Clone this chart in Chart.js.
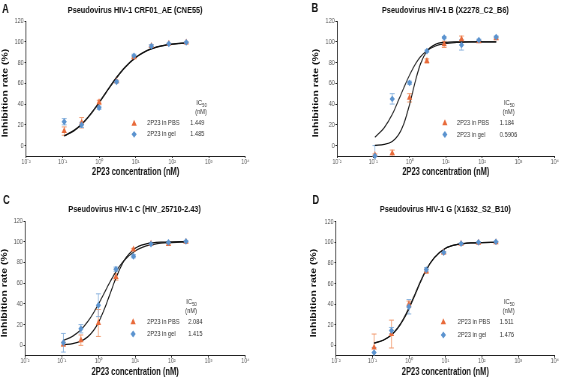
<!DOCTYPE html>
<html><head><meta charset="utf-8">
<script src="https://cdn.jsdelivr.net/npm/chart.js@4.4.1/dist/chart.umd.min.js"></script>
<style>
html,body{margin:0;padding:0;background:#fff;}
#wrap{position:relative;width:561px;height:377px;overflow:hidden;background:#fff;}
canvas{position:absolute;}
</style></head><body><div id="wrap">
<canvas id="cA"></canvas><canvas id="cB"></canvas><canvas id="cC"></canvas><canvas id="cD"></canvas>
</div>
<script>
// ---------- shared axis data ----------
const concentrations = [0.111, 0.333, 1, 3, 9, 27, 81, 243];
const curveX = [0.111, 0.2, 0.333, 0.5, 0.7, 1, 1.5, 2, 3, 5, 10, 20, 30, 50, 100, 243];
const xTickValues = [0.01, 0.1, 1, 10, 100, 1000, 10000];
const xTickLabels = ['10⁻²', '10⁻¹', '10⁰', '10¹', '10²', '10³', '10⁴'];
const yTickValues = [0, 20, 40, 60, 80, 100, 120];
const seriesNames = ['2P23 in PBS', '2P23 in gel'];
const xAxisTitle = '2P23 concentration (nM)';
const yAxisTitle = 'Inhibition rate (%)';

// ---------- panel A ----------
const titleA = 'Pseudovirus HIV-1 CRF01_AE (CNE55)';
const pbsA = [14, 22, 41.7, 62, 85, 96, 98, 99.3];
const pbsErrA = [4, 5, 2, 1, 1, 1, 0.5, 0.5];
const gelA = [23, 20, 36.5, 61.5, 86.5, 95.8, 98, 99.4];
const gelErrA = [3, 2.5, 1.5, 1, 1.5, 1.5, 0.5, 0.5];
const ic50A = ['1.449', '1.485'];
const fitPbsA = [9.5, 14.4, 20.9, 27.7, 34.2, 41.7, 50.8, 57.2, 65.8, 75.3, 85, 91.4, 93.9, 96, 97.8, 99];
const fitGelA = [9.2, 14, 20.4, 27.1, 33.6, 40.9, 50.2, 56.5, 65.1, 74.7, 84.6, 91.1, 93.7, 95.9, 97.7, 98.9];

// ---------- panel B ----------
const titleB = 'Pseudovirus HIV-1 B (X2278_C2_B6)';
const pbsB = [-9, -7.3, 46, 81.5, 97.5, 102.5, 100.5, 103.5];
const pbsErrB = [1, 3, 4, 2, 3, 3, 1, 1];
const gelB = [-10, 45, 60.5, 91, 104, 97, 101.5, 104.5];
const gelErrB = [10, 5, 1.5, 1, 1, 5, 1, 1];
const ic50B = ['1.184', '0.5906'];
const fitPbsB = [0.3, 1.2, 4, 10.5, 21.3, 39.6, 64.3, 78.7, 91, 97.3, 99.5, 99.9, 100, 100, 100, 100];
const fitGelB = [8, 17.2, 30, 44, 56, 68, 79.5, 85.5, 91.3, 95.7, 98.4, 99.4, 99.7, 99.9, 100, 100];

// ---------- panel C ----------
const titleC = 'Pseudovirus HIV-1 C (HIV_25710-2.43)';
const pbsC = [1, 5, 21.6, 66, 92.6, 98, 97.7, 100];
const pbsErrC = [2, 5, 13, 3, 1, 1, 1, 0.5];
const gelC = [2.5, 16, 38.7, 73.5, 86, 97.7, 99.3, 100.3];
const gelErrC = [9, 4, 11, 2, 1.5, 1, 0.5, 0.5];
const ic50C = ['2.084', '1.415'];
const fitPbsC = [0.6, 1.7, 4, 7.9, 13.3, 22, 36.2, 48.2, 65, 81.8, 93.7, 98, 99, 99.6, 99.9, 100];
const fitGelC = [4.6, 8.9, 15, 22.5, 30.2, 39.8, 51.7, 60.2, 71, 81.8, 91, 95.9, 97.3, 98.6, 99.2, 99.7];

// ---------- panel D ----------
const titleD = 'Pseudovirus HIV-1 G (X1632_S2_B10)';
const pbsD = [-2, 11, 40, 72, 90, 98.5, 99.5, 100];
const pbsErrD = [13, 13.5, 3, 2, 1, 0.5, 0.5, 0.5];
const gelD = [-7, 14.4, 37.5, 73.4, 90, 98.7, 100, 100.5];
const gelErrD = [5, 3, 7, 2, 1, 0.5, 0.5, 0.5];
const ic50D = ['1.511', '1.476'];
const fitPbsD = [2.2, 5, 10, 16.8, 24.7, 35.5, 49.7, 60, 73.2, 85, 94, 97.7, 98.6, 99.4, 99.8, 100];
const fitGelD = [2.3, 5.2, 10.4, 17.4, 25.5, 36.4, 50.6, 60.9, 73.8, 85.4, 94.2, 97.8, 98.7, 99.4, 99.8, 100];

// ---------- styling / layout ----------
const S = 0.75; // horizontal squeeze of the reference figure
const FONT = '"Liberation Sans", Arial, Helvetica, sans-serif';
const ORANGE = '#e86a3a', ORANGE_ERR = '#f19a6e';
const BLUE = '#5b93cf', BLUE_ERR = '#8cb4de';
Chart.defaults.font.family = FONT;

const panels = [
  {id:'cA', letter:'A', title:titleA, pbs:pbsA, pbsErr:pbsErrA, gel:gelA, gelErr:gelErrA, ic:ic50A, fitPbs:fitPbsA, fitGel:fitGelA,
   box:[0,0,280,188], plot:[26,21,245,156], letterPos:[2,10], titlePos:[135,10], yTitlePos:[5.5,93], xTitleY:172.7,
   leg:{mx:134, tx:147, vx:190, hx:196, hy:103, ny:112, r1:123.3, r2:134.3}},
  {id:'cB', letter:'B', title:titleB, pbs:pbsB, pbsErr:pbsErrB, gel:gelB, gelErr:gelErrB, ic:ic50B, fitPbs:fitPbsB, fitGel:fitGelB,
   box:[280,0,281,188], plot:[337,21,555,156], letterPos:[311.5,9], titlePos:[445.5,10], yTitlePos:[316,93], xTitleY:172.7,
   leg:{mx:445, tx:457, vx:500, hx:504, hy:103, ny:111.5, r1:122.7, r2:134.5}},
  {id:'cC', letter:'C', title:titleC, pbs:pbsC, pbsErr:pbsErrC, gel:gelC, gelErr:gelErrC, ic:ic50C, fitPbs:fitPbsC, fitGel:fitGelC,
   box:[0,188,280,189], plot:[25,221,245,355.7], letterPos:[3,200.5], titlePos:[134.5,209], yTitlePos:[4.5,293], xTitleY:372.2,
   leg:{mx:133, tx:147, vx:188, hx:186, hy:302, ny:311, r1:321.7, r2:334}},
  {id:'cD', letter:'D', title:titleD, pbs:pbsD, pbsErr:pbsErrD, gel:gelD, gelErr:gelErrD, ic:ic50D, fitPbs:fitPbsD, fitGel:fitGelD,
   box:[280,188,281,189], plot:[336,221.7,555,355.7], letterPos:[312.5,200.5], titlePos:[445.5,209], yTitlePos:[314,293], xTitleY:372.2,
   leg:{mx:443.5, tx:458, vx:500, hx:504, hy:302, ny:310.5, r1:321.7, r2:335}}
];

const errorBars = {
  id:'errorBars',
  beforeDatasetsDraw(chart) {
    const {ctx, chartArea, scales:{x, y}} = chart;
    ctx.save();
    ctx.beginPath();
    ctx.rect(chartArea.left - 10, chartArea.top - 10, chartArea.right - chartArea.left + 20, chartArea.bottom - chartArea.top + 10);
    ctx.clip();
    for (let i = chart.data.datasets.length - 1; i >= 0; i--) {
      const ds = chart.data.datasets[i];
      if (!ds.errors) continue;
      ctx.strokeStyle = ds.errorColor; ctx.lineWidth = 1;
      ds.data.forEach((pt, j) => {
        const e = ds.errors[j]; if (!e) return;
        const px = x.getPixelForValue(pt.x);
        const yt = y.getPixelForValue(pt.y + e), yb = y.getPixelForValue(pt.y - e);
        const cw = 3.2;
        ctx.beginPath();
        ctx.moveTo(px, yt); ctx.lineTo(px, yb);
        ctx.moveTo(px - cw, yt); ctx.lineTo(px + cw, yt);
        ctx.moveTo(px - cw, yb); ctx.lineTo(px + cw, yb);
        ctx.stroke();
      });
    }
    ctx.restore();
  }
};

function marker(ctx, style, x, y, r, color) {
  ctx.fillStyle = color; ctx.beginPath();
  if (style === 'triangle') {
    ctx.moveTo(x, y - r); ctx.lineTo(x + r * 0.866, y + r * 0.5); ctx.lineTo(x - r * 0.866, y + r * 0.5);
  } else {
    ctx.moveTo(x, y - r); ctx.lineTo(x + r, y); ctx.lineTo(x, y + r); ctx.lineTo(x - r, y);
  }
  ctx.closePath(); ctx.fill();
}

function buildPanel(p) {
  const [bx, by, bw, bh] = p.box;
  const [pl, pt, pr, pb] = p.plot;
  const cv = document.getElementById(p.id);
  const iw = Math.round(bw / S);
  cv.width = iw; cv.height = bh;
  cv.style.left = bx + 'px'; cv.style.top = by + 'px';
  cv.style.width = bw + 'px'; cv.style.height = bh + 'px';
  const X = dx => (dx - bx) / S;
  const Y = dy => dy - by;

  const textPlugin = {
    id:'panelText',
    afterDraw(chart) {
      const ctx = chart.ctx;
      ctx.save();
      ctx.fillStyle = '#111';
      ctx.textBaseline = 'middle';
      // panel letter
      ctx.font = 'bold 12.5px ' + FONT; ctx.textAlign = 'left';
      ctx.fillText(p.letter, X(p.letterPos[0]), Y(p.letterPos[1]));
      // title
      ctx.font = 'bold 9.8px ' + FONT; ctx.textAlign = 'center';
      ctx.fillText(p.title, X(p.titlePos[0]), Y(p.titlePos[1]));
      // x axis title
      ctx.font = 'bold 10px ' + FONT;
      ctx.fillText(xAxisTitle, X((pl + pr) / 2), Y(p.xTitleY));
      // y axis title
      ctx.save();
      ctx.translate(X(p.yTitlePos[0]), Y(p.yTitlePos[1]));
      ctx.rotate(-Math.PI / 2);
      ctx.font = 'bold 10.5px ' + FONT;
      ctx.fillText(yAxisTitle, 0, 0);
      ctx.restore();
      // legend
      const L = p.leg;
      ctx.fillStyle = '#333';
      ctx.textAlign = 'left';
      ctx.font = '8px ' + FONT;
      ctx.fillText('IC', X(L.hx), Y(L.hy));
      const icw = ctx.measureText('IC').width;
      ctx.font = '5.5px ' + FONT;
      ctx.fillText('50', X(L.hx) + icw, Y(L.hy) + 2.5);
      ctx.font = '7.6px ' + FONT;
      ctx.fillText('(nM)', X(L.hx - 1), Y(L.ny));
      marker(ctx, 'triangle', X(L.mx), Y(L.r1) + 0.5, 4, ORANGE);
      marker(ctx, 'diamond', X(L.mx), Y(L.r2), 3.4, BLUE);
      ctx.fillStyle = '#333';
      ctx.fillText(seriesNames[0], X(L.tx), Y(L.r1));
      ctx.fillText(seriesNames[1], X(L.tx), Y(L.r2));
      ctx.fillText(p.ic[0], X(L.vx), Y(L.r1));
      ctx.fillText(p.ic[1], X(L.vx), Y(L.r2));
      ctx.restore();
    }
  };

  const pts = v => concentrations.map((c, i) => ({x:c, y:v[i]}));
  const fit = v => curveX.map((c, i) => ({x:c, y:v[i]}));
  const axisCommon = {
    grid:{drawOnChartArea:false, drawTicks:true, tickLength:2, tickColor:'#222', tickWidth:1},
    border:{display:true, color:'#222', width:1}
  };

  new Chart(cv, {
    type:'scatter',
    data:{datasets:[
      {type:'scatter', label:seriesNames[1], data:pts(p.gel), errors:p.gelErr, errorColor:BLUE_ERR,
       pointStyle:'rectRot', pointRadius:3.4, backgroundColor:BLUE, borderColor:BLUE, borderWidth:0, clip:false},
      {type:'scatter', label:seriesNames[0], data:pts(p.pbs), errors:p.pbsErr, errorColor:ORANGE_ERR,
       pointStyle:'triangle', pointRadius:4, backgroundColor:ORANGE, borderColor:ORANGE, borderWidth:0, clip:false},
      {type:'line', label:'fit PBS', data:fit(p.fitPbs), borderColor:'#111', borderWidth:1.25,
       pointRadius:0, cubicInterpolationMode:'monotone', fill:false},
      {type:'line', label:'fit gel', data:fit(p.fitGel), borderColor:'#222', borderWidth:1.25,
       pointRadius:0, cubicInterpolationMode:'monotone', fill:false}
    ]},
    options:{
      responsive:false, animation:false, devicePixelRatio:1,
      layout:{padding:{left:0, top:pt - by, right:iw - X(pr), bottom:0}},
      plugins:{legend:{display:false}, title:{display:false}, tooltip:{enabled:false}},
      scales:{
        x:Object.assign({
          type:'logarithmic', min:0.01, max:10000,
          afterFit:s => { s.height = by + bh - pb; },
          afterBuildTicks:s => { s.ticks = xTickValues.map(v => ({value:v})); },
          ticks:{callback:(v, i) => xTickLabels[i], autoSkip:false, maxRotation:0, minRotation:0,
                 padding:-0.5, color:'#555', font:{size:7}}
        }, axisCommon),
        y:Object.assign({
          type:'linear', min:-10, max:120,
          afterFit:s => { s.width = X(pl); },
          afterBuildTicks:s => { s.ticks = yTickValues.map(v => ({value:v})); },
          ticks:{padding:1, color:'#555', font:{size:7.3}}
        }, axisCommon)
      }
    },
    plugins:[errorBars, textPlugin]
  });
}

panels.forEach(buildPanel);
</script>
</body></html>
